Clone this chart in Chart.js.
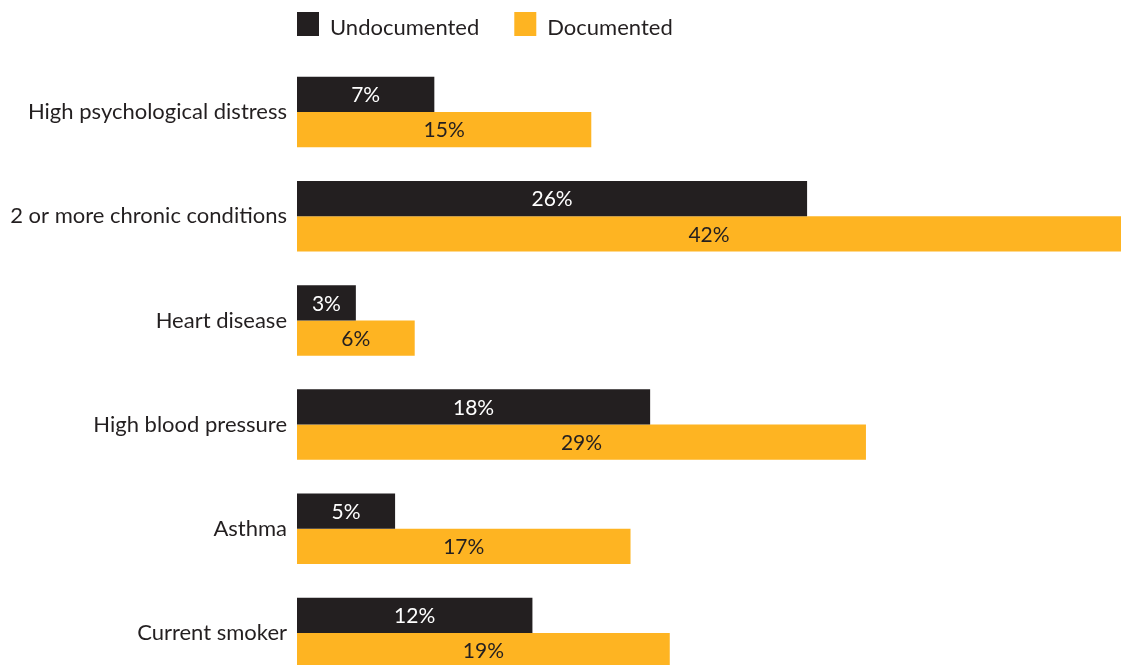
<!DOCTYPE html>
<html>
<head>
<meta charset="utf-8">
<script src="https://cdn.jsdelivr.net/npm/chart.js@4"></script>
<style>
  html, body { margin: 0; padding: 0; background: #fff; overflow: hidden; }
  canvas { display: block; }
</style>
</head>
<body>
<canvas id="healthChart" width="1127" height="688"></canvas>
<script>
const categories = [
    "High psychological distress",
    "2 or more chronic conditions",
    "Heart disease",
    "High blood pressure",
    "Asthma",
    "Current smoker"
];
const undocumented = [7, 26, 3, 18, 5, 12];
const documented = [15, 42, 6, 29, 17, 19];

const DARK = "#231f20";
const ORANGE = "#feb422";
const FONT = "Lato, 'Noto Sans', sans-serif";

// legend drawn by hand so the first swatch lines up with the bars
const legendPlugin = {
    id: "sideLegend",
    afterDraw(chart) {
        const c = chart.ctx;
        let x = chart.chartArea.left;
        c.save();
        c.font = "22px " + FONT;
        c.textBaseline = "middle";
        c.textAlign = "left";
        chart.data.datasets.forEach(ds => {
            c.fillStyle = ds.backgroundColor;
            c.fillRect(x, 12, 22, 24);
            c.fillStyle = DARK;
            c.fillText(ds.label, x + 33, 28);
            x += 33 + c.measureText(ds.label).width + 35;
        });
        c.restore();
    }
};

// percentage printed in the middle of each bar
const valueLabels = {
    id: "valueLabels",
    afterDatasetsDraw(chart) {
        const c = chart.ctx;
        c.save();
        c.font = "21px " + FONT;
        c.textAlign = "center";
        c.textBaseline = "middle";
        chart.data.datasets.forEach((ds, i) => {
            chart.getDatasetMeta(i).data.forEach((bar, j) => {
                c.fillStyle = ds.labelColor;
                c.fillText(ds.data[j] + "%", (bar.x + bar.base) / 2, bar.y + 1);
            });
        });
        c.restore();
    }
};

new Chart(document.getElementById("healthChart"), {
    type: "bar",
    data: {
        labels: categories,
        datasets: [
            { label: "Undocumented", data: undocumented, backgroundColor: DARK, labelColor: "#ffffff" },
            { label: "Documented", data: documented, backgroundColor: ORANGE, labelColor: DARK }
        ]
    },
    options: {
        indexAxis: "y",
        responsive: false,
        animation: false,
        layout: { padding: { top: 60, right: 6, bottom: 3, left: 0 } },
        datasets: { bar: { categoryPercentage: 0.677, barPercentage: 1, borderWidth: 0 } },
        scales: {
            x: { display: false, min: 0, max: 42 },
            y: {
                grid: { display: false, drawTicks: false },
                border: { display: false },
                ticks: { color: DARK, padding: 10, font: { family: FONT, size: 22 } },
                afterFit(scale) {
                    scale.width = 297;
                    // labels sit at category centres, no overflow room needed
                    scale.paddingTop = 0;
                    scale.paddingBottom = 0;
                }
            }
        },
        plugins: {
            legend: { display: false },
            tooltip: { enabled: false }
        }
    },
    plugins: [legendPlugin, valueLabels]
});
</script>
</body>
</html>
